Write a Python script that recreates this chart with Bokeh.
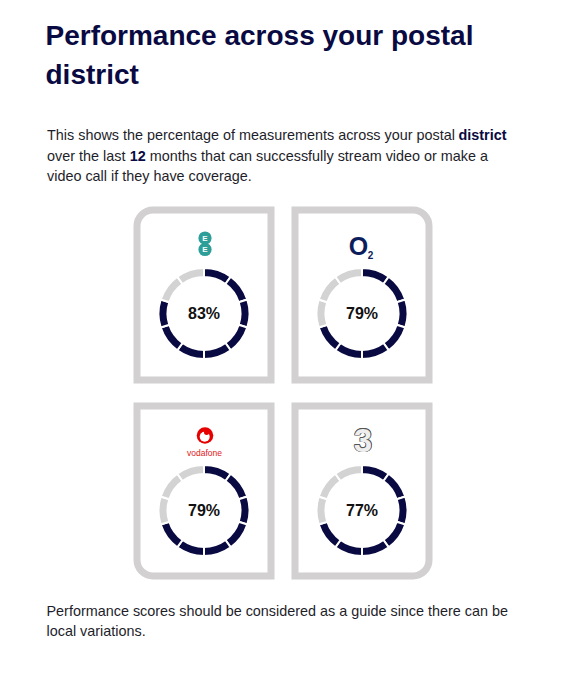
import math
from bokeh.plotting import figure
from bokeh.models import ColumnDataSource, BoxAnnotation, Range1d
from bokeh.core.properties import value
from bokeh.embed import file_html
from bokeh.resources import INLINE

# ---------------- data ----------------
operators = ["EE", "O2", "Vodafone", "Three"]
scores = [83, 79, 79, 77]
n_segments = 10

title_lines = ["Performance across your postal", "district"]
intro_line1 = ["This shows the percentage of measurements across your postal", "district"]
intro_line2 = ["over the last", "12", "months that can successfully stream video or make a"]
intro_line3 = "video call if they have coverage."
footer_lines = ["Performance scores should be considered as a guide since there can be",
                "local variations."]

# ---------------- styles ----------------
NAVY = "#0a0a42"
GREY = "#d3d3d3"
CARD_GREY = "#d2d0d0"
TEXT = "#1e1e2a"
FONT = value("Liberation Sans")

W, H = 560, 660


def X(sx):
    return sx


def Y(sy):
    return H - sy


def YB(baseline, size):
    """vertical centre of a text line whose baseline is given (screen px)"""
    return Y(baseline - 0.35 * size)


p = figure(width=W, height=H, x_range=Range1d(0, W), y_range=Range1d(0, H),
           output_backend="svg", toolbar_location=None, min_border=0,
           x_axis_location=None, y_axis_location=None)
p.grid.visible = False
p.outline_line_color = None
p.background_fill_color = "white"
p.border_fill_color = "white"

# ---------------- title ----------------
p.text(x=[X(45), X(45)], y=[YB(45, 28), YB(84, 28)], text=title_lines, text_font=FONT,
       text_font_size="28px", text_font_style="bold", text_color=NAVY,
       text_baseline="middle", text_align="left")

# ---------------- intro paragraph ----------------
fsn = 14.4
fs = f"{fsn}px"


def line(x, base, txt, bold=False):
    p.text(x=[X(x)], y=[YB(base, fsn)], text=[txt], text_font=FONT, text_font_size=fs,
           text_font_style="bold" if bold else "normal",
           text_color=NAVY if bold else TEXT, text_baseline="middle", text_align="left")


line(46.5, 140, intro_line1[0])
line(458, 140, intro_line1[1], bold=True)
line(46.5, 160.5, intro_line2[0])
line(129.2, 160.5, intro_line2[1], bold=True)
line(149.2, 160.5, intro_line2[2])
line(46.5, 181, intro_line3)

# ---------------- cards ----------------
card_boxes = [  # left, right, top, bottom (screen px, stroke centre)
    (136.5, 270.5, 209.5, 379.5),
    (294.5, 428.5, 209.5, 379.5),
    (136.5, 270.5, 405.5, 575.5),
    (294.5, 428.5, 405.5, 575.5),
]
R = 16
radii = [(R, 0, 0, 0), (0, R, 0, 0), (0, 0, 0, R), (0, 0, R, 0)]
for (l, r, t, b), rad in zip(card_boxes, radii):
    p.add_layout(BoxAnnotation(left=X(l), right=X(r), top=Y(t), bottom=Y(b),
                               fill_alpha=0, fill_color=None, line_color=CARD_GREY,
                               line_alpha=1.0, line_width=7, line_join="miter",
                               border_radius=rad, level="underlay"))

centres = [((l + r) / 2, 313 if t < 300 else 510) for (l, r, t, b) in card_boxes]

# ---------------- donuts ----------------
xs, ys, starts, ends, cols = [], [], [], [], []
for (cx, cy), s in zip(centres, scores):
    filled = s // 10
    for i in range(n_segments):
        xs.append(X(cx))
        ys.append(Y(cy))
        starts.append(math.radians(90 - 360 / n_segments * (i + 1)))
        ends.append(math.radians(90 - 360 / n_segments * i))
        cols.append(NAVY if i < filled else GREY)
src = ColumnDataSource(dict(x=xs, y=ys, start=starts, end=ends, color=cols))
p.annular_wedge(x="x", y="y", inner_radius=36.5, outer_radius=45.5, start_angle="start",
                end_angle="end", fill_color="color", line_color="white", line_width=2,
                source=src)

p.text(x=[X(c[0]) for c in centres], y=[Y(c[1]) for c in centres],
       text=[f"{s}%" for s in scores], text_font=FONT, text_font_size="16px",
       text_font_style="bold", text_color="#111111", text_align="center",
       text_baseline="middle")

# ---------------- logos ----------------
# EE
ex = centres[0][0] + 1
p.circle(x=[X(ex), X(ex)], y=[Y(237.5), Y(249)], radius=6.6, fill_color="#2e9e99",
         line_color=None)
p.text(x=[X(ex), X(ex)], y=[Y(237.5), Y(249)], text=["E", "E"], text_font=FONT,
       text_font_size="8px", text_font_style="bold", text_color="white",
       text_align="center", text_baseline="middle")

# O2
p.text(x=[X(358)], y=[Y(245)], text=["O"], text_font=FONT, text_font_size="25px",
       text_font_style="bold", text_color="#0c1d5c", text_align="center",
       text_baseline="middle")
p.text(x=[X(370)], y=[Y(254)], text=["2"], text_font=FONT, text_font_size="10px",
       text_font_style="bold", text_color="#0c1d5c", text_align="center",
       text_baseline="middle")

# Vodafone
vx = centres[2][0] + 1
p.circle(x=[X(vx)], y=[Y(435)], radius=8.3, fill_color="#e60000", line_color=None)
p.circle(x=[X(vx - 0.3)], y=[Y(436.3)], radius=5.0, fill_color="white", line_color=None)
p.circle(x=[X(vx + 1.6)], y=[Y(431.8)], radius=2.6, fill_color="#e60000", line_color=None)
p.text(x=[X(vx - 0.5)], y=[Y(452)], text=["vodafone"], text_font=FONT,
       text_font_size="8.5px", text_color="#e02020", text_align="center",
       text_baseline="middle")

# Three (outlined "3")
tx, ty = 362.5, 439.5
offs = [(-0.8, 0), (0.8, 0), (0, -0.8), (0, 0.8), (-0.6, -0.6), (0.6, 0.6), (-0.6, 0.6), (0.6, -0.6)]
p.text(x=[X(tx + dx) for dx, dy in offs], y=[Y(ty + dy) for dx, dy in offs],
       text=["3"] * len(offs), text_font=FONT, text_font_size="33px",
       text_font_style="bold", text_color="#555555", text_align="center",
       text_baseline="middle")
p.text(x=[X(tx)], y=[Y(ty)], text=["3"], text_font=FONT, text_font_size="33px",
       text_font_style="bold", text_color="#eeeeee", text_align="center",
       text_baseline="middle")

# ---------------- footer ----------------
line(46, 615.5, footer_lines[0])
line(46, 636, footer_lines[1])

open("out.html", "w").write(file_html(p, INLINE))
